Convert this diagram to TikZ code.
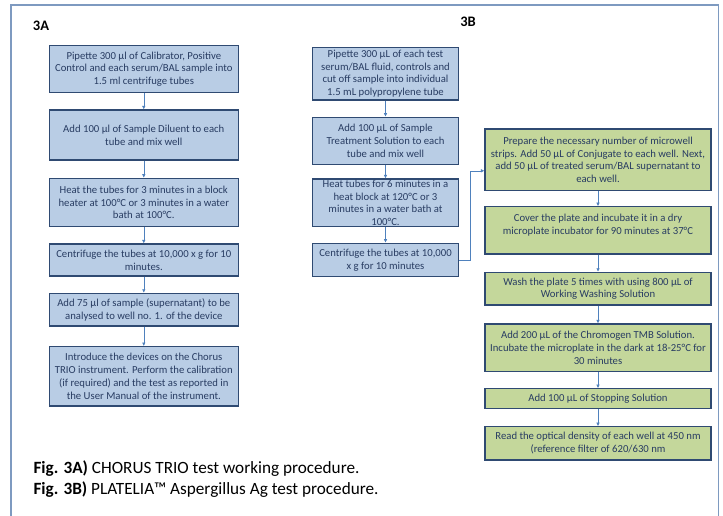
\documentclass[tikz,border=0pt]{standalone}
\usepackage{fontspec}
\setmainfont{Carlito}
\usetikzlibrary{arrows.meta,calc}
\definecolor{bfill}{RGB}{185,205,229}
\definecolor{gfill}{RGB}{196,215,155}
\definecolor{bord}{RGB}{47,74,114}
\definecolor{txt}{RGB}{40,60,98}
\definecolor{arr}{RGB}{79,129,189}
\definecolor{frame}{RGB}{126,154,192}
\tikzset{
  box/.style={draw=bord, line width=1.2pt, align=center, text=txt, inner sep=0pt,
    font=\fontsize{10.7}{12.7}\selectfont, anchor=center},
  bluebox/.style={box, fill=bfill},
  greenbox/.style={box, fill=gfill},
  conn/.style={draw=arr, line width=0.6pt, -{Latex[length=3.5pt,width=3.5pt]}},
  paneltitle/.style={font=\fontsize{14.5}{16}\selectfont\bfseries, text=black},
  caption/.style={font=\fontsize{17.2}{20}\selectfont, text=black, anchor=west}
}
\begin{document}
\begin{tikzpicture}[x=1pt,y=-1pt]
\useasboundingbox (0,0) rectangle (723,515);
\fill[white] (0,0) rectangle (723,515);
\draw[frame, line width=1.6pt] (11,530) -- (11,5) -- (718.5,5) -- (718.5,530);

\node[paneltitle] (tA) at (41,25.5) {3A};
\node[paneltitle] (tB) at (468,21.5) {3B};

% 3A column
\node[bluebox, minimum width=189pt, minimum height=47pt] (a1) at (143.8,69.2)
  {Pipette 300 µl of Calibrator, Positive\\ Control and each serum/BAL sample into\\ 1.5 ml centrifuge tubes};
\node[bluebox, minimum width=189pt, minimum height=50pt] (a2) at (143.8,135)
  {Add 100 µl of Sample Diluent to each\\ tube and mix well};
\node[bluebox, minimum width=189pt, minimum height=48.4pt] (a3) at (143.8,202.5)
  {Heat the tubes for 3 minutes in a block\\ heater at 100°C or 3 minutes in a water\\ bath at 100°C.};
\node[bluebox, minimum width=189pt, minimum height=32pt] (a4) at (143.8,260)
  {Centrifuge the tubes at 10,000 x g for 10\\ minutes.};
\node[bluebox, minimum width=189pt, minimum height=32.7pt] (a5) at (143.8,309.7)
  {Add 75 µl of sample (supernatant) to be\\ analysed to well no. 1. of the device};
\node[bluebox, minimum width=189pt, minimum height=59.3pt] (a6) at (143.8,376.3)
  {Introduce the devices on the Chorus\\ TRIO instrument. Perform the calibration\\ (if required) and the test as reported in\\ the User Manual of the instrument.};
\foreach \p/\q in {a1/a2,a2/a3,a3/a4,a4/a5,a5/a6} \draw[conn] (\p) -- (\q);

% 3B left column
\node[bluebox, minimum width=146.4pt, minimum height=52.7pt] (b1) at (385.5,73.7)
  {Pipette 300 µL of each test\\ serum/BAL fluid, controls and\\ cut off sample into individual\\ 1.5 mL polypropylene tube};
\node[bluebox, minimum width=146.4pt, minimum height=47.4pt] (b2) at (385.5,141)
  {Add 100 µL of Sample\\ Treatment Solution to each\\ tube and mix well};
\node[bluebox, minimum width=146.4pt, minimum height=47.7pt] (b3) at (385.5,202.8)
  {Heat tubes for 6 minutes in a\\ heat block at 120°C or 3\\ minutes in a water bath at\\ 100°C.};
\node[bluebox, minimum width=146.4pt, minimum height=33.4pt] (b4) at (385.5,260)
  {Centrifuge the tubes at 10,000\\ x g for 10 minutes};
\foreach \p/\q in {b1/b2,b2/b3,b3/b4} \draw[conn] (\p) -- (\q);

% 3B right column
\node[greenbox, minimum width=226pt, minimum height=61.7pt] (g1) at (598,159.8)
  {Prepare the necessary number of microwell\\ strips. Add 50 µL of Conjugate to each well. Next,\\ add 50 µL of treated serum/BAL supernatant to\\ each well.};
\node[greenbox, minimum width=226pt, minimum height=47.3pt] (g2) at (598,230.3)
  {Cover the plate and incubate it in a dry\\ microplate incubator for 90 minutes at 37°C\\ \mbox{}};
\node[greenbox, minimum width=226pt, minimum height=32.7pt] (g3) at (598,288.7)
  {Wash the plate 5 times with using 800 µL of\\ Working Washing Solution};
\node[greenbox, minimum width=226pt, minimum height=47.7pt] (g4) at (598,347.8)
  {Add 200 µL of the Chromogen TMB Solution.\\ Incubate the microplate in the dark at 18-25°C for\\ 30 minutes};
\node[greenbox, minimum width=226pt, minimum height=19.6pt] (g5) at (598,398.5)
  {Add 100 µL of Stopping Solution};
\node[greenbox, minimum width=226pt, minimum height=33.3pt] (g6) at (598,443.3)
  {Read the optical density of each well at 450 nm\\ (reference filter of 620/630 nm};
\foreach \p/\q in {g1/g2,g2/g3,g3/g4,g4/g5,g5/g6} \draw[conn] (\p) -- (\q);

\draw[conn] (b4.east) -- ++(11.3,0) |- ([yshift=-11pt]g1.west);

% captions
\node[caption] (c1) at (30,469) {\textbf{Fig. 3A)} CHORUS TRIO test working procedure.};
\node[caption] (c2) at (30,490) {\textbf{Fig. 3B)} PLATELIA™ Aspergillus Ag test procedure.};
\end{tikzpicture}
\end{document}
